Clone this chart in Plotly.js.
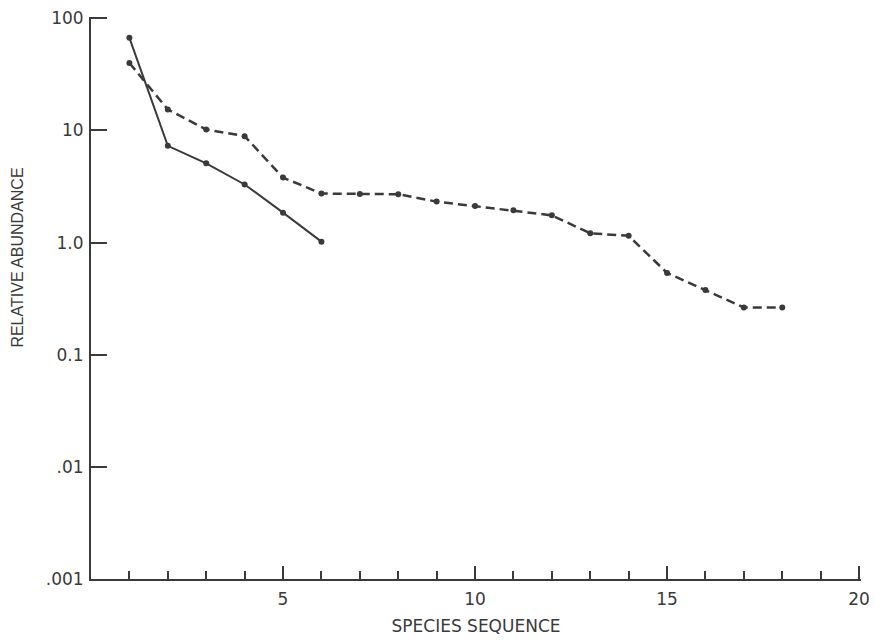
<!DOCTYPE html>
<html>
<head>
<meta charset="utf-8">
<script src="https://cdn.plot.ly/plotly-3.0.1.min.js"></script>
<style>html,body{margin:0;padding:0;background:#fff;}#chart{width:875px;height:642px;}</style>
</head>
<body>
<div id="chart"></div>
<script>
const speciesA = [1, 2, 3, 4, 5, 6];
const abundanceA = [67, 7.3, 5.1, 3.3, 1.85, 1.02];
const speciesB = [1, 2, 3, 4, 5, 6, 7, 8, 9, 10, 11, 12, 13, 14, 15, 16, 17, 18];
const abundanceB = [40, 15.4, 10.2, 8.9, 3.8, 2.74, 2.72, 2.7, 2.32, 2.12, 1.94, 1.75, 1.21, 1.15, 0.537, 0.377, 0.264, 0.264];
const xTickVals = [5, 10, 15, 20];
const xTickText = ['5', '10', '15', '20'];
const yTickVals = [0.001, 0.01, 0.1, 1, 10, 100];
const yTickText = ['.001', '.01', '0.1', '1.0', '10', '100'];

const ink = '#3a3a3a';
const tickFont = 'DejaVu Sans, sans-serif';
const titleFont = 'Liberation Sans, Arial, sans-serif';

const traces = [
  {x: speciesA, y: abundanceA, mode: 'lines+markers', type: 'scatter',
   line: {color: ink, width: 2}, marker: {color: ink, size: 6}},
  {x: speciesB, y: abundanceB, mode: 'lines+markers', type: 'scatter',
   line: {color: ink, width: 2.5, dash: '9px,5px'}, marker: {color: ink, size: 6}}
];

const layout = {
  width: 875, height: 642,
  margin: {l: 91, r: 14, t: 17, b: 63},
  paper_bgcolor: '#ffffff', plot_bgcolor: '#ffffff',
  showlegend: false,
  font: {family: tickFont, color: ink},
  xaxis: {
    range: [0, 20.05], showgrid: false, zeroline: false,
    showline: true, linecolor: ink, linewidth: 2,
    tickvals: xTickVals, ticktext: xTickText,
    ticks: 'inside', ticklen: 13, tickwidth: 2, tickcolor: ink,
    minor: {dtick: 1, tick0: 0, ticks: 'inside', ticklen: 8, tickwidth: 2, tickcolor: ink, showgrid: false},
    tickfont: {size: 17, family: tickFont, color: ink},
    ticklabelstandoff: 4,
    title: {text: 'SPECIES SEQUENCE', font: {size: 17, family: tickFont, color: ink}, standoff: 12}
  },
  yaxis: {
    type: 'log', range: [-3, 2.012], showgrid: false, zeroline: false,
    showline: true, linecolor: ink, linewidth: 2,
    tickvals: yTickVals, ticktext: yTickText,
    ticks: 'inside', ticklen: 16, tickwidth: 2, tickcolor: ink,
    tickfont: {size: 17, family: tickFont, color: ink},
    ticklabelstandoff: 2
  },
  annotations: [{
    text: 'RELATIVE ABUNDANCE', textangle: -90,
    xref: 'paper', yref: 'paper', x: -0.096, y: 0.572,
    xanchor: 'center', yanchor: 'middle', showarrow: false,
    font: {size: 16, family: titleFont, color: ink}
  }]
};

Plotly.newPlot('chart', traces, layout, {staticPlot: true, displayModeBar: false});
</script>
</body>
</html>
